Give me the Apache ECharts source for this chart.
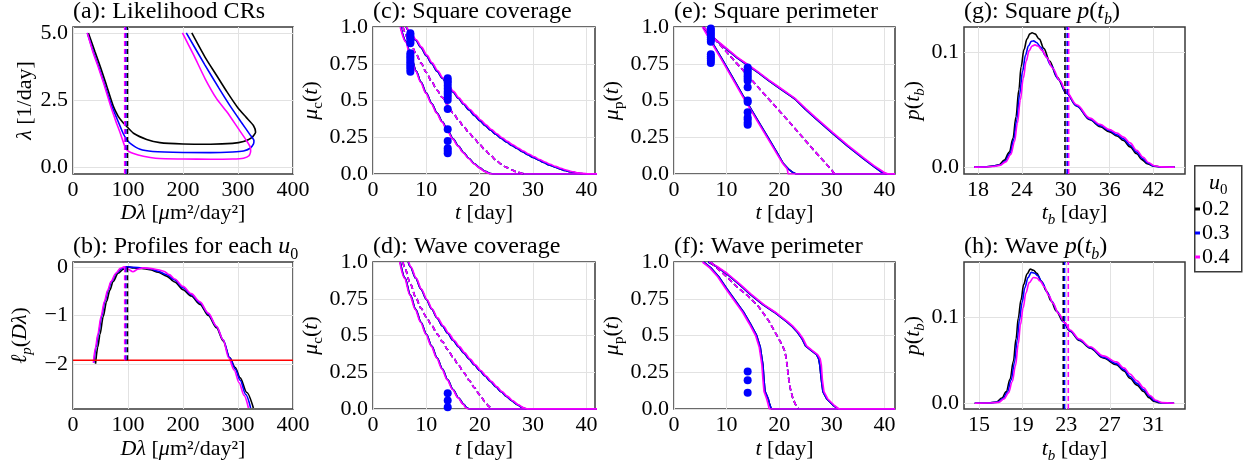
<!DOCTYPE html>
<html><head><meta charset="utf-8">
<script src="https://cdn.jsdelivr.net/npm/echarts@6/dist/echarts.min.js"></script>
<style>html,body{margin:0;padding:0;background:#fff}#c{width:1250px;height:470px}</style>
</head><body><div id="c"></div>
<script>
// ---------------- DATA ----------------
const u0Labels = ['0.2', '0.3', '0.4'];

// (a) likelihood confidence regions: [Dλ, λ]
const crBlack = [[28,5.0],[40,4.3],[50,3.72],[60,3.1],[73,2.28],[82,1.9],[90,1.68],[96,1.55],[110,1.26],[134,1.03],[158,0.91],[200,0.86],[250,0.85],[290,0.88],[310,0.95],[325,1.1],[332,1.3],[328,1.55],[315,1.85],[300,2.2],[280,2.8],[260,3.45],[240,4.1],[216,5.0]];
const crBlue = [[26,5.0],[37,4.3],[47,3.72],[57,3.1],[70,2.3],[80,1.8],[91,1.26],[97,1.05],[104,0.88],[122,0.66],[145,0.58],[200,0.54],[250,0.535],[290,0.56],[310,0.6],[322,0.7],[328,0.85],[329,0.98],[322,1.2],[305,1.7],[285,2.3],[265,2.95],[240,3.8],[206,5.0]];
const crMagenta = [[26,5.0],[36,4.3],[46,3.72],[56,3.1],[68,2.3],[78,1.7],[86,1.26],[94.5,0.76],[100,0.6],[110,0.5],[128,0.4],[150,0.33],[200,0.3],[250,0.29],[290,0.3],[310,0.33],[320,0.42],[323,0.6],[322,0.76],[315,1.0],[300,1.45],[280,2.05],[261,2.55],[240,3.3],[220,4.15],[199,5.0]];
const mleDL = [99, 96, 94];

// (b) profile log-likelihoods: [Dλ, lp]
const pfBlack = [[41,-1.99],[45,-1.65],[49,-1.39],[55,-1.02],[61,-0.71],[67,-0.48],[73,-0.3],[82,-0.13],[91.5,-0.05],[99,0],[110,-0.02],[125,-0.03],[140,-0.06],[155,-0.11],[170,-0.19],[185,-0.31],[200,-0.47],[215,-0.6],[231,-0.77],[246,-1.0],[261,-1.25],[273,-1.52],[285,-1.87],[295,-2.07],[304,-2.28],[316,-2.58],[328,-2.9]];
const pfBlue = [[38,-1.97],[42,-1.65],[46,-1.39],[52,-1.02],[58,-0.71],[64,-0.48],[70,-0.3],[79,-0.13],[88,-0.04],[96,0],[110,-0.01],[125,-0.02],[140,-0.04],[155,-0.09],[170,-0.16],[185,-0.27],[200,-0.43],[215,-0.57],[231,-0.74],[246,-0.97],[261,-1.23],[273,-1.5],[285,-1.87],[295,-2.1],[304,-2.33],[314,-2.62],[323,-2.9]];
const pfMagenta = [[37,-1.97],[41,-1.65],[45,-1.39],[51,-1.02],[57,-0.71],[63,-0.48],[69,-0.3],[78,-0.13],[86,-0.03],[93,0],[100,-0.05],[109,-0.1],[118,-0.05],[127,-0.02],[140,-0.03],[155,-0.06],[165,-0.09],[175,-0.16],[185,-0.25],[200,-0.4],[215,-0.55],[231,-0.72],[246,-0.95],[261,-1.22],[273,-1.5],[283,-1.87],[293,-2.12],[302,-2.38],[311,-2.64],[319,-2.9]];
const lpThreshold = -1.92;

// (c) square coverage: [t, mu]
const cLow = [[5.2,1.0],[6.2,0.9],[7.1,0.8],[8.1,0.7],[9,0.625],[10,0.55],[11,0.48],[12,0.415],[13,0.355],[14,0.295],[15,0.24],[16,0.19],[17,0.145],[18,0.105],[19,0.07],[20,0.042],[21,0.018],[22,0.003],[22.6,0],[42,0]];
const cLowMagenta = [[5.1,1.0],[6.1,0.9],[7.0,0.8],[8.0,0.7],[8.9,0.625],[9.9,0.55],[10.9,0.48],[11.9,0.415],[12.9,0.355],[13.9,0.295],[14.9,0.24],[15.9,0.19],[16.9,0.145],[17.9,0.105],[18.9,0.07],[19.9,0.042],[20.9,0.018],[21.8,0.003],[22.3,0],[42,0]];
const cHigh = [[6.2,1.0],[7,0.96],[8,0.91],[9,0.86],[10,0.805],[11,0.752],[12,0.7],[13,0.651],[14,0.603],[15,0.558],[16,0.515],[17,0.474],[18,0.435],[19,0.398],[20,0.363],[21,0.33],[22,0.299],[23,0.27],[24,0.243],[25,0.218],[26,0.195],[27,0.173],[28,0.152],[29,0.132],[30,0.113],[31,0.095],[32,0.078],[33,0.062],[34,0.048],[35,0.035],[36,0.024],[37,0.015],[38,0.008],[39,0.003],[40,0.0005],[41,0],[42,0]];
const cHighMagenta = [[6.3,1.0],[7.1,0.962],[8.1,0.913],[9.1,0.863],[10.1,0.809],[11.1,0.756],[12.1,0.704],[13.1,0.655],[14.1,0.607],[15.1,0.562],[16.1,0.519],[17.1,0.478],[18.2,0.439],[19.2,0.402],[20.2,0.367],[21.2,0.334],[22.2,0.303],[23.2,0.274],[24.2,0.247],[25.2,0.222],[26.2,0.199],[27.2,0.177],[28.2,0.156],[29.2,0.136],[30.2,0.117],[31.2,0.099],[32.2,0.082],[33.2,0.066],[34.2,0.052],[35.2,0.039],[36.2,0.027],[37.2,0.017],[38.3,0.009],[39.3,0.004],[40.4,0.0008],[41.3,0],[42,0]];
const cMle = [[5.6,1.0],[7,0.895],[8,0.823],[9,0.755],[10,0.69],[11,0.628],[12,0.57],[13,0.52],[14,0.467],[15,0.416],[16,0.368],[17,0.322],[18,0.28],[19,0.24],[20,0.2],[21,0.163],[22,0.128],[23,0.096],[24,0.068],[25,0.045],[26,0.027],[27,0.013],[28,0.003],[28.6,0]];
const cDots7 = [0.957,0.945,0.93,0.915,0.9,0.889,0.821,0.805,0.79,0.775,0.76,0.745,0.73,0.715,0.696];
const cDots14 = [0.651,0.635,0.62,0.6,0.58,0.56,0.545,0.525,0.503,0.442,0.304,0.224,0.175,0.158,0.141];

// (d) wave coverage
const dLow = [[5.1,1.0],[6,0.89],[7,0.775],[8,0.678],[9,0.59],[10,0.508],[11,0.428],[12,0.349],[13,0.272],[14,0.198],[15,0.133],[16,0.077],[17,0.032],[17.6,0.008],[18,0],[42,0]];
const dLowMagenta = [[5.0,1.0],[5.9,0.89],[6.9,0.775],[7.9,0.678],[8.9,0.59],[9.9,0.508],[10.9,0.428],[11.9,0.349],[12.9,0.272],[13.9,0.198],[14.9,0.133],[15.9,0.077],[16.9,0.032],[17.4,0.008],[17.8,0],[42,0]];
const dHigh = [[6.6,1.0],[7,0.968],[8,0.89],[9,0.815],[10,0.745],[11,0.68],[12,0.62],[13,0.565],[14,0.515],[15,0.468],[16,0.424],[17,0.382],[18,0.34],[19,0.3],[20,0.262],[21,0.224],[22,0.188],[23,0.152],[24,0.118],[25,0.086],[26,0.056],[27,0.03],[28,0.01],[28.6,0.002],[29,0],[42,0]];
const dHighMagenta = [[6.7,1.0],[7.1,0.968],[8.1,0.89],[9.1,0.815],[10.1,0.745],[11.1,0.68],[12.1,0.62],[13.2,0.565],[14.2,0.515],[15.2,0.468],[16.2,0.424],[17.2,0.382],[18.2,0.34],[19.2,0.3],[20.2,0.262],[21.2,0.224],[22.2,0.188],[23.2,0.152],[24.2,0.118],[25.2,0.086],[26.2,0.056],[27.2,0.03],[28.2,0.01],[28.8,0.002],[29.2,0],[42,0]];
const dMle = [[5.6,1.0],[6,0.955],[7,0.852],[8,0.76],[9,0.685],[10,0.625],[11,0.568],[12,0.512],[13,0.458],[14,0.404],[15,0.352],[16,0.3],[17,0.248],[18,0.196],[19,0.145],[20,0.096],[21,0.05],[21.7,0.018],[22.2,0]];
const dDots14 = [0.107,0.057,0.012];

// (e) square perimeter
const eLow = [[5.6,1.0],[7,0.91],[9,0.79],[11,0.665],[13,0.54],[14,0.48],[16,0.36],[18,0.24],[19.5,0.15],[20.7,0.075],[21.7,0.035],[22.5,0.013],[23.2,0],[42,0]];
const eLowMagenta = [[5.4,1.0],[7,0.9],[9,0.78],[11,0.655],[13,0.53],[14,0.47],[16,0.35],[18,0.23],[19.5,0.14],[20.7,0.07],[21.5,0.035],[21.7,0],[42,0]];
const eHigh = [[5.6,1.0],[6.5,0.96],[7.8,0.915],[10,0.85],[12,0.79],[13.8,0.745],[16,0.69],[18,0.635],[20,0.585],[22,0.535],[23,0.51],[25,0.44],[27,0.375],[30.2,0.275],[33,0.19],[36,0.105],[38,0.05],[39.5,0.012],[40.2,0],[42,0]];
const eHighMagenta = [[5.6,1.0],[6.5,0.965],[7.8,0.92],[10,0.855],[12,0.795],[13.8,0.75],[16,0.695],[18,0.64],[20,0.59],[22,0.54],[23,0.515],[25,0.447],[27,0.382],[30.2,0.282],[33,0.197],[36,0.112],[38,0.057],[39.9,0.012],[40.7,0],[42,0]];
const eMle = [[5.6,1.0],[6.8,0.955],[10,0.83],[14,0.67],[18,0.51],[22,0.35],[26,0.185],[28,0.105],[30,0.025],[30.5,0]];
const eDots7 = [0.99,0.975,0.96,0.945,0.93,0.915,0.90,0.815,0.80,0.785,0.77,0.755];
const eDots14 = [0.725,0.71,0.695,0.68,0.665,0.65,0.635,0.59,0.5,0.49,0.42,0.385,0.37,0.35,0.335];

// (f) wave perimeter
const fLow = [[5.6,1.0],[7,0.96],[8.5,0.9],[10,0.82],[11.6,0.74],[13.2,0.66],[14.5,0.58],[15.7,0.5],[16.4,0.42],[16.9,0.3],[17.1,0.2],[17.3,0.12],[17.9,0.07],[18.2,0.03],[18.5,0],[42,0]];
const fLowMagenta = [[5.4,1.0],[6.8,0.96],[8.3,0.9],[9.8,0.82],[11.4,0.74],[13.0,0.66],[14.3,0.58],[15.5,0.5],[16.2,0.42],[16.7,0.3],[16.9,0.2],[17.1,0.12],[17.6,0.07],[17.9,0.03],[18.1,0],[42,0]];
const fHigh = [[6.5,1.0],[8,0.97],[10,0.92],[12.5,0.845],[14.5,0.78],[16.9,0.71],[19,0.66],[21.4,0.595],[22.5,0.56],[23.5,0.52],[24.3,0.48],[25,0.43],[26,0.4],[27.1,0.37],[27.5,0.34],[27.7,0.3],[28,0.2],[28.3,0.118],[29,0.07],[30.2,0.027],[31.2,0],[42,0]];
const fHighMagenta = [[6.7,1.0],[8.2,0.97],[10.2,0.92],[12.7,0.845],[14.7,0.78],[17.1,0.71],[19.2,0.66],[21.6,0.595],[22.7,0.56],[23.7,0.52],[24.5,0.48],[25.2,0.43],[26.2,0.4],[27.3,0.37],[27.8,0.34],[28.0,0.3],[28.2,0.2],[28.5,0.118],[29.2,0.07],[30.4,0.027],[31.4,0],[42,0]];
const fMle = [[7.0,1.0],[7.5,0.98],[10,0.9],[12,0.83],[13.8,0.777],[16,0.7],[18,0.6],[19.5,0.504],[20.5,0.44],[21.1,0.39],[21.5,0.3],[21.7,0.23],[22.1,0.14],[22.6,0.07],[23.1,0.03],[23.6,0.005]];
const fDots14 = [0.255,0.195,0.11];

// (g) square p(t_b)
const gBlack = [[17.5,0],[19,0.0002],[20,0.0008],[20.9,0.002],[21.6,0.006],[22.3,0.013],[22.8,0.025],[23.2,0.0435],[23.6,0.067],[23.9,0.087],[24.3,0.102],[24.7,0.111],[25.1,0.1155],[25.4,0.1165],[25.8,0.1155],[26.4,0.111],[27,0.103],[27.8,0.092],[28.8,0.078],[30.1,0.064],[31.5,0.053],[33.3,0.041],[34.7,0.035],[36,0.0305],[37,0.027],[37.9,0.023],[38.8,0.0175],[39.7,0.0115],[40.4,0.0065],[41.1,0.003],[42,0.0008],[43,0.0001],[44.9,0]];
const gBlue = [[17.5,0],[19,0.0002],[20,0.0007],[21,0.0018],[21.7,0.005],[22.4,0.012],[22.9,0.024],[23.3,0.041],[23.7,0.063],[24.1,0.083],[24.5,0.097],[24.9,0.105],[25.3,0.109],[25.6,0.1095],[26,0.108],[26.6,0.104],[27.2,0.097],[28,0.088],[29,0.076],[30.1,0.064],[31.5,0.053],[33.3,0.0415],[34.7,0.036],[36,0.0315],[37,0.028],[37.9,0.0245],[38.8,0.019],[39.7,0.013],[40.5,0.0075],[41.2,0.0035],[42,0.001],[43,0.0001],[44.9,0]];
const gMagenta = [[17.5,0],[19,0.0001],[20,0.0005],[21,0.0015],[21.8,0.0045],[22.5,0.011],[23,0.022],[23.4,0.038],[23.8,0.058],[24.2,0.077],[24.6,0.092],[25,0.101],[25.4,0.105],[25.8,0.106],[26.2,0.105],[26.8,0.101],[27.4,0.095],[28.2,0.086],[29.2,0.075],[30.1,0.065],[31.5,0.054],[33.3,0.0425],[34.7,0.037],[36,0.0325],[37,0.0295],[37.9,0.026],[38.8,0.021],[39.7,0.0145],[40.6,0.0085],[41.3,0.004],[42.1,0.0012],[43,0.0002],[44.9,0]];
const gMean = [29.9, 30.2, 30.4];

// (h) wave p(t_b)
const hBlack = [[14.6,0],[15.8,0.0003],[16.6,0.0015],[17.1,0.006],[17.5,0.0136],[17.85,0.028],[18.15,0.0486],[18.4,0.075],[18.6,0.099],[18.85,0.12],[19.1,0.138],[19.4,0.15],[19.7,0.1557],[20,0.1545],[20.3,0.151],[20.7,0.142],[21.2,0.13],[21.6,0.119],[22.1,0.107],[22.7,0.095],[23.35,0.0837],[24.2,0.073],[25.2,0.064],[26.4,0.0526],[27.6,0.0447],[28.3,0.0375],[28.85,0.029],[29.5,0.021],[30.1,0.0136],[30.6,0.0065],[31,0.0025],[31.6,0.0005],[32.9,0]];
const hBlue = [[14.6,0],[15.8,0.0002],[16.7,0.0013],[17.2,0.0055],[17.6,0.013],[17.95,0.027],[18.25,0.047],[18.5,0.073],[18.7,0.096],[18.95,0.117],[19.2,0.134],[19.5,0.146],[19.8,0.152],[20.1,0.151],[20.4,0.148],[20.8,0.14],[21.3,0.128],[21.7,0.118],[22.2,0.106],[22.8,0.094],[23.35,0.084],[24.2,0.0735],[25.2,0.0645],[26.4,0.0535],[27.6,0.046],[28.3,0.039],[28.85,0.031],[29.5,0.023],[30.1,0.0155],[30.7,0.0075],[31.1,0.003],[31.7,0.0006],[32.9,0]];
const hMagenta = [[14.6,0],[15.8,0.0002],[16.8,0.001],[17.3,0.005],[17.7,0.012],[18.05,0.025],[18.35,0.044],[18.6,0.069],[18.8,0.091],[19.05,0.111],[19.3,0.128],[19.6,0.14],[20,0.146],[20.3,0.1455],[20.6,0.142],[21,0.135],[21.4,0.125],[21.8,0.116],[22.3,0.104],[22.9,0.093],[23.35,0.085],[24.2,0.0745],[25.2,0.0655],[26.4,0.055],[27.6,0.048],[28.3,0.041],[28.85,0.034],[29.5,0.026],[30.1,0.018],[30.7,0.009],[31.2,0.0035],[31.8,0.0007],[32.9,0]];
const hMean = [22.73, 22.85, 23.19];

// tick values
const dlTicks = [0, 100, 200, 300, 400];
const lamTicks = [0, 2.5, 5];
const lpTicks = [-2, -1, 0];
const tTicks = [0, 10, 20, 30, 40];
const muTicks = [0, 0.25, 0.5, 0.75, 1];
const gTicks = [18, 24, 30, 36, 42];
const hTicks = [15, 19, 23, 27, 31];
const pTicks = [0, 0.1];

// ---------------- STYLE / LAYOUT ----------------
const COLORS = ['#000000', '#0000ff', '#ff00ff'];
const FONT = 'Liberation Serif';
const FS = 22;
function richSet(fs) {
  const sfs = Math.round(fs * 0.68);
  return {
    i: {fontFamily: FONT, fontSize: fs, fontStyle: 'italic', color: '#000'},
    n: {fontFamily: FONT, fontSize: fs, color: '#000'},
    sub: {fontFamily: FONT, fontSize: sfs, color: '#000', verticalAlign: 'bottom', height: 8},
    subi: {fontFamily: FONT, fontSize: sfs, fontStyle: 'italic', color: '#000', verticalAlign: 'bottom', height: 8}
  };
}
const R = richSet(FS);
const RT = richSet(24);
const TS = {fontFamily: FONT, fontSize: FS, color: '#000', fontWeight: 'normal', rich: R};
const TT = {fontFamily: FONT, fontSize: 24, color: '#000', fontWeight: 'normal', rich: RT};

const grids = [
  {left: 73, top: 27, width: 220, height: 147},   // a
  {left: 73, top: 262, width: 220, height: 147},  // b
  {left: 373, top: 27, width: 222, height: 147},  // c
  {left: 373, top: 262, width: 222, height: 147}, // d
  {left: 674, top: 27, width: 221, height: 147},  // e
  {left: 674, top: 262, width: 221, height: 147}, // f
  {left: 964, top: 27, width: 221, height: 147},  // g
  {left: 964, top: 262, width: 221, height: 147}  // h
].map(g => Object.assign({show: true, borderColor: '#3a3a3a', borderWidth: 1.5, backgroundColor: '#fff', containLabel: false, outerBoundsMode: 'none'}, g));

function axis(gi, min, max, ticks, fmt, name, gap) {
  return {
    type: 'value', gridIndex: gi, min: min, max: max,
    name: name, nameLocation: 'middle', nameGap: gap, nameTextStyle: TS,
    axisLine: {show: false},
    axisTick: {show: false, customValues: ticks},
    axisLabel: {customValues: ticks, formatter: fmt, margin: 5, fontFamily: FONT, fontSize: FS, color: '#000', hideOverlap: false},
    splitLine: {show: true, lineStyle: {color: '#e2e2e2', width: 1}}
  };
}
const fStr = v => String(v);
const f1 = v => v.toFixed(1);
const fMu = v => (v === 0 ? '0.0' : v === 1 ? '1.0' : String(v));
const fLp = v => (v < 0 ? '\u2212' + (-v) : String(v));

const xName = {
  dl: '{i|D\u03bb} [{i|\u03bc}m\u00b2/day\u00b2]',
  t: '{i|t} [day]',
  tb: '{i|t}{subi|b} [day]'
};
const lamRange = [-0.26, 5.22];
const lpRange = [-2.92, 0.1];
const gRange = [-0.006, 0.1215];
const hRange = [-0.0067, 0.164];

const xAxes = [
  axis(0, 0, 400, dlTicks, fStr, xName.dl, 28),
  axis(1, 0, 400, dlTicks, fStr, xName.dl, 29),
  axis(2, 0, 41.6, tTicks, fStr, xName.t, 28),
  axis(3, 0, 41.6, tTicks, fStr, xName.t, 29),
  axis(4, 0, 42, tTicks, fStr, xName.t, 28),
  axis(5, 0, 42, tTicks, fStr, xName.t, 29),
  axis(6, 16.1, 46.3, gTicks, fStr, xName.tb, 28),
  axis(7, 13.62, 33.9, hTicks, fStr, xName.tb, 29)
];
const yAxes = [
  axis(0, lamRange[0], lamRange[1], lamTicks, f1, '{i|\u03bb} [1/day]', 37),
  axis(1, lpRange[0], lpRange[1], lpTicks, fLp, '{i|\u2113}{subi|p}({i|D\u03bb})', 42),
  axis(2, 0, 1, muTicks, fMu, '{i|\u03bc}{sub|c}({i|t})', 41),
  axis(3, 0, 1, muTicks, fMu, '{i|\u03bc}{sub|c}({i|t})', 41),
  axis(4, 0, 1, muTicks, fMu, '{i|\u03bc}{sub|p}({i|t})', 48),
  axis(5, 0, 1, muTicks, fMu, '{i|\u03bc}{sub|p}({i|t})', 48),
  axis(6, gRange[0], gRange[1], pTicks, f1, '{i|p}({i|t}{subi|b})', 33),
  axis(7, hRange[0], hRange[1], pTicks, f1, '{i|p}({i|t}{subi|b})', 33)
];

const titleDefs = [
  ['(a): Likelihood CRs', 73, 0], ['(b): Profiles for each {i|u}{sub|0}', 73, 235],
  ['(c): Square coverage', 373, 0], ['(d): Wave coverage', 373, 235],
  ['(e): Square perimeter', 674, 0], ['(f): Wave perimeter', 674, 235],
  ['(g): Square {i|p}({i|t}{subi|b})', 964, 0], ['(h): Wave {i|p}({i|t}{subi|b})', 964, 235]
];
const titles = titleDefs.map(d => ({text: d[0], left: d[1], top: d[2], padding: 0, textStyle: TT}));

// ---------------- SERIES ----------------
const series = [];
function line(gi, data, k, opts) {
  opts = opts || {};
  series.push({
    type: 'line', name: opts.name || u0Labels[k], xAxisIndex: gi, yAxisIndex: gi, data: data,
    showSymbol: false, symbol: 'none', silent: true, animation: false,
    smooth: opts.smooth || false, smoothMonotone: opts.mono ? 'x' : undefined,
    lineStyle: {color: opts.color || COLORS[k], width: 1.6, type: opts.dash ? [5, 3] : 'solid'},
    itemStyle: {color: opts.color || COLORS[k]}, z: 3
  });
}
function dots(gi, t, vals) {
  series.push({
    type: 'scatter', name: 'data', xAxisIndex: gi, yAxisIndex: gi,
    data: vals.map(v => [t, v]), symbolSize: 8, itemStyle: {color: '#0000ff', opacity: 1}, silent: true, animation: false, z: 4
  });
}

// (a)
[crBlack, crBlue, crMagenta].forEach((d, k) => line(0, d, k, {smooth: 0.2}));
mleDL.forEach((x, k) => line(0, [[x, lamRange[0]], [x, lamRange[1]]], k, {dash: true}));
// (b)
[pfBlack, pfBlue, pfMagenta].forEach((d, k) => line(1, d, k, {smooth: 0.3, mono: true}));
line(1, [[0, lpThreshold], [400, lpThreshold]], 0, {name: 'threshold', color: '#ff0000'});
mleDL.forEach((x, k) => line(1, [[x, lpThreshold], [x, 0]], k, {dash: true}));
// (c)
[[cLow, cHigh], [cLow, cHigh], [cLowMagenta, cHighMagenta]].forEach((p, k) => {
  line(2, p[0], k, {smooth: 0.3, mono: true}); line(2, p[1], k, {smooth: 0.3, mono: true});
});
[0, 1, 2].forEach(k => line(2, cMle, k, {smooth: 0.3, mono: true, dash: true}));
dots(2, 7, cDots7); dots(2, 14, cDots14);
// (d)
[[dLow, dHigh], [dLow, dHigh], [dLowMagenta, dHighMagenta]].forEach((p, k) => {
  line(3, p[0], k, {smooth: 0.3, mono: true}); line(3, p[1], k, {smooth: 0.3, mono: true});
});
[0, 1, 2].forEach(k => line(3, dMle, k, {smooth: 0.3, mono: true, dash: true}));
dots(3, 14, dDots14);
// (e)
[[eLow, eHigh], [eLow, eHigh], [eLowMagenta, eHighMagenta]].forEach((p, k) => {
  line(4, p[0], k); line(4, p[1], k);
});
[0, 1, 2].forEach(k => line(4, eMle, k, {dash: true}));
dots(4, 7, eDots7); dots(4, 14, eDots14);
// (f)
[[fLow, fHigh], [fLow, fHigh], [fLowMagenta, fHighMagenta]].forEach((p, k) => {
  line(5, p[0], k); line(5, p[1], k);
});
[0, 1, 2].forEach(k => line(5, fMle, k, {dash: true}));
dots(5, 14, fDots14);
// (g)
[gBlack, gBlue, gMagenta].forEach((d, k) => line(6, d, k, {smooth: 0.35, mono: true}));
gMean.forEach((x, k) => line(6, [[x, gRange[0]], [x, gRange[1]]], k, {dash: true}));
// (h)
[hBlack, hBlue, hMagenta].forEach((d, k) => line(7, d, k, {smooth: 0.35, mono: true}));
hMean.forEach((x, k) => line(7, [[x, hRange[0]], [x, hRange[1]]], k, {dash: true}));

const chart = echarts.init(document.getElementById('c'), null, {renderer: 'canvas'});
chart.setOption({
  animation: false,
  backgroundColor: '#fff',
  title: titles,
  grid: grids,
  xAxis: xAxes,
  yAxis: yAxes,
  legend: {
    data: u0Labels, orient: 'vertical', left: 1195, top: 198, padding: 0,
    itemWidth: 5, itemHeight: 3, icon: 'rect', itemGap: 2, selectedMode: false,
    textStyle: {fontFamily: FONT, fontSize: FS, color: '#000', padding: [0, 0, 0, -3]}
  },
  graphic: [
    {type: 'rect', left: 1194, top: 165, shape: {width: 47, height: 106}, style: {fill: '#fff', stroke: '#3a3a3a', lineWidth: 1.5}, z: 1},
    {type: 'text', left: 1209, top: 172, style: {text: '{i|u}{sub|0}', rich: R, fill: '#000'}, z: 2}
  ],
  series: series
});
</script></body></html>
